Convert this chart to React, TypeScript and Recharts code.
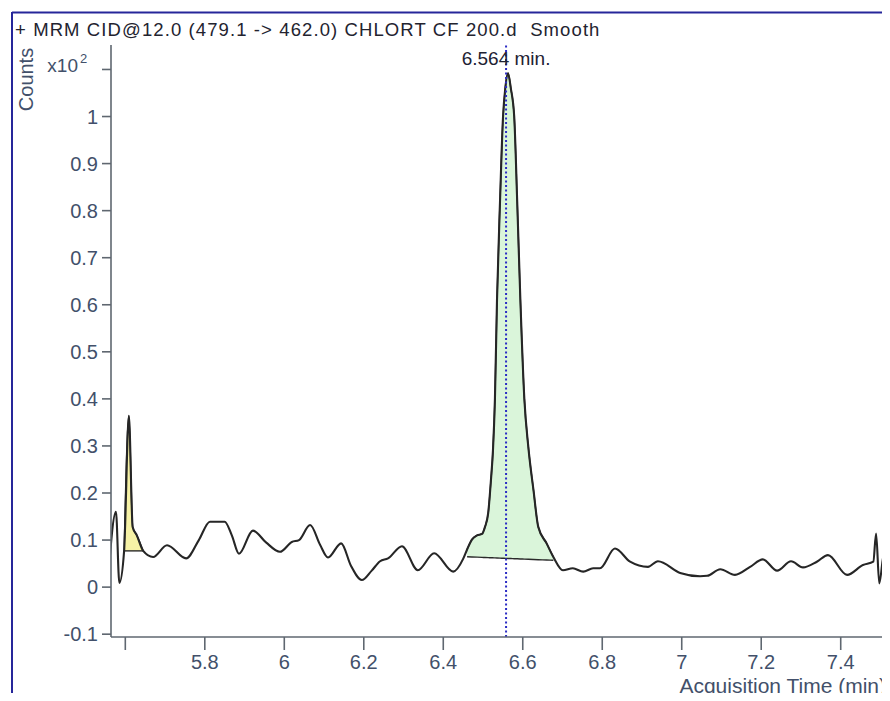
import React from 'react';
import { ComposedChart, Line, Area, XAxis, YAxis, ReferenceLine, Label } from 'recharts';

// Acquisition time (min) and smoothed counts (x10^2)
const timeMin = [
  5.556, 5.5765, 5.585, 5.597, 5.609, 5.6185, 5.629, 5.645, 5.670, 5.705,
  5.753, 5.785, 5.813, 5.850, 5.868, 5.886, 5.921, 5.954, 5.989, 6.019,
  6.037, 6.065, 6.090, 6.110, 6.143, 6.168, 6.195, 6.220, 6.241, 6.261,
  6.296, 6.336, 6.377, 6.425, 6.450, 6.460, 6.472, 6.485, 6.4975, 6.505,
  6.513, 6.520, 6.525, 6.530, 6.5352, 6.5428, 6.5504, 6.556, 6.563, 6.570,
  6.5785, 6.586, 6.594, 6.604, 6.614, 6.627, 6.639, 6.660, 6.677, 6.701,
  6.726, 6.752, 6.777, 6.794, 6.832, 6.870, 6.915, 6.940, 6.996, 7.046,
  7.064, 7.097, 7.134, 7.172, 7.204, 7.240, 7.275, 7.305, 7.340, 7.368,
  7.416, 7.456, 7.482, 7.489, 7.497, 7.509, 7.520, 7.530,
];
const countsE2 = [
  0.010, 0.160, 0.009, 0.077, 0.364, 0.128, 0.110, 0.077, 0.064, 0.089,
  0.061, 0.100, 0.139, 0.139, 0.110, 0.071, 0.120, 0.095, 0.075, 0.096,
  0.100, 0.132, 0.090, 0.063, 0.093, 0.045, 0.015, 0.035, 0.055, 0.061,
  0.087, 0.036, 0.072, 0.033, 0.060, 0.080, 0.101, 0.110, 0.113, 0.128,
  0.157, 0.228, 0.290, 0.400, 0.610, 0.820, 1.000, 1.060, 1.092, 1.060,
  1.000, 0.820, 0.610, 0.400, 0.298, 0.206, 0.128, 0.093, 0.064, 0.036,
  0.040, 0.033, 0.040, 0.040, 0.082, 0.054, 0.043, 0.055, 0.030, 0.023,
  0.024, 0.038, 0.026, 0.043, 0.059, 0.035, 0.055, 0.042, 0.054, 0.068,
  0.026, 0.047, 0.054, 0.114, 0.008, 0.072, 0.026, 0.050,
];

// integrated peaks: [start, end] times and baseline levels at those times
const smallPeakTimes = [5.597, 5.645];
const smallPeakBase = [0.077, 0.077];
const mainPeakTimes = [6.460, 6.677];
const mainPeakBase = [0.0645, 0.057];

const xTicks = [5.6, 5.8, 6.0, 6.2, 6.4, 6.6, 6.8, 7.0, 7.2, 7.4];
const xHiddenLabels = [5.6];
const yTicks = [-0.1, 0, 0.1, 0.2, 0.3, 0.4, 0.5, 0.6, 0.7, 0.8, 0.9, 1.0, 1.1];
const xDomain = [5.564, 7.524];
const yDomain = [-0.106, 1.152];

const rtMarker = 6.558;
const rtLabel = '6.564 min.';
const titleText = '+ MRM CID@12.0 (479.1 -> 462.0) CHLORT CF 200.d  Smooth';
const xTitle = 'Acquisition Time (min)';
const yTitle = 'Counts';

const FONT = '"Liberation Sans", Arial, sans-serif';
const TICK_COLOR = '#42506a';
const AXIS_COLOR = '#5f6770';

const mainData = timeMin.map((t, i) => ({ t, v: countsE2[i] }));

function peakFill(times: number[], base: number[]) {
  const [t0, t1] = times;
  const [b0, b1] = base;
  return mainData
    .filter((d) => d.t >= t0 - 1e-9 && d.t <= t1 + 1e-9)
    .map((d) => ({ t: d.t, band: [b0 + ((b1 - b0) * (d.t - t0)) / (t1 - t0), d.v] }));
}

const smallPeakData = peakFill(smallPeakTimes, smallPeakBase);
const mainPeakData = peakFill(mainPeakTimes, mainPeakBase);

const XTick = (props: any) => {
  const { x, y, payload } = props;
  if (xHiddenLabels.some((h) => Math.abs(h - payload.value) < 1e-6)) return <g />;
  const label = String(Math.round(payload.value * 10) / 10);
  return (
    <text x={x} y={y} dy="0.71em" textAnchor="middle" fill={TICK_COLOR} fontSize={20} fontFamily={FONT}>
      {label}
    </text>
  );
};

const YTick = (props: any) => {
  const { x, y, payload } = props;
  if (payload.value > 1.05) {
    return (
      <g>
        <text x={x - 20} y={y + 3} textAnchor="end" fill={TICK_COLOR} fontSize={19} fontFamily={FONT}>
          x10
        </text>
        <text x={x - 18} y={y - 6} textAnchor="start" fill={TICK_COLOR} fontSize={13} fontFamily={FONT}>
          2
        </text>
      </g>
    );
  }
  const label = String(Math.round(payload.value * 10) / 10);
  return (
    <text x={x} y={y} dy="0.35em" textAnchor="end" fill={TICK_COLOR} fontSize={20} fontFamily={FONT}>
      {label}
    </text>
  );
};

export default function App() {
  return (
    <div
      style={{
        position: 'relative',
        margin: '-8px',
        width: 890,
        height: 701,
        overflow: 'hidden',
        background: '#ffffff',
      }}
    >
      <ComposedChart
        width={890}
        height={701}
        data={mainData}
        margin={{ top: 45, right: 0, bottom: 0, left: 0 }}
      >
        <XAxis
          dataKey="t"
          type="number"
          domain={xDomain}
          ticks={xTicks}
          interval={0}
          allowDataOverflow
          height={64}
          tickSize={13}
          tickMargin={5}
          tick={<XTick />}
          axisLine={{ stroke: AXIS_COLOR, strokeWidth: 1.6 }}
          tickLine={{ stroke: AXIS_COLOR, strokeWidth: 1.6 }}
        >
          <Label
            content={() => (
              <text x={886} y={693} textAnchor="end" fill={TICK_COLOR} fontSize={21} fontFamily={FONT}>
                {xTitle}
              </text>
            )}
          />
        </XAxis>
        <YAxis
          type="number"
          domain={yDomain}
          ticks={yTicks}
          interval={0}
          allowDataOverflow
          width={111}
          tickSize={9}
          tickMargin={4}
          tick={<YTick />}
          axisLine={{ stroke: AXIS_COLOR, strokeWidth: 1.6 }}
          tickLine={{ stroke: AXIS_COLOR, strokeWidth: 1.6 }}
        >
          <Label
            content={() => (
              <text
                x={33}
                y={79.5}
                textAnchor="middle"
                transform="rotate(-90, 33, 79.5)"
                fill={TICK_COLOR}
                fontSize={20}
                fontFamily={FONT}
              >
                {yTitle}
              </text>
            )}
          />
        </YAxis>
        <Area
          data={smallPeakData}
          dataKey="band"
          type="monotone"
          fill="#f6f2a6"
          fillOpacity={1}
          stroke="#2a2a2a"
          strokeWidth={1.4}
          isAnimationActive={false}
          activeDot={false}
        />
        <Area
          data={mainPeakData}
          dataKey="band"
          type="monotone"
          fill="#daf5da"
          fillOpacity={1}
          stroke="#2a2a2a"
          strokeWidth={1.4}
          isAnimationActive={false}
          activeDot={false}
        />
        <Line
          dataKey="v"
          type="monotone"
          stroke="#262626"
          strokeWidth={2.1}
          dot={false}
          activeDot={false}
          isAnimationActive={false}
        />
        <ReferenceLine
          x={rtMarker}
          stroke="#2b2bc4"
          strokeWidth={2}
          strokeDasharray="2 2.5"
          label={(p: any) => (
            <text
              x={p.viewBox.x}
              y={65}
              textAnchor="middle"
              fill="#1e2233"
              fontSize={19}
              fontFamily={FONT}
            >
              {rtLabel}
            </text>
          )}
        />
      </ComposedChart>
      <svg
        width={890}
        height={701}
        style={{ position: 'absolute', left: 0, top: 0, pointerEvents: 'none' }}
      >
        <line x1={12} y1={12.5} x2={890} y2={12.5} stroke="#26269a" strokeWidth={2} />
        <line x1={12} y1={12} x2={12} y2={701} stroke="#26269a" strokeWidth={2} />
        <text
          x={15}
          y={36}
          fill="#23232f"
          fontSize={18.5}
          fontFamily={FONT}
          letterSpacing={1.1}
          style={{ whiteSpace: 'pre' }}
        >
          {titleText}
        </text>
      </svg>
    </div>
  );
}
